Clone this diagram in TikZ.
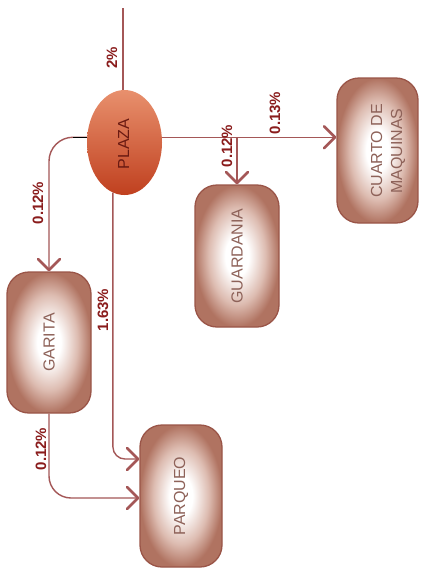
\documentclass[tikz,border=0pt]{standalone}
\usepackage{fontspec}
\setmainfont{Liberation Sans}
\usetikzlibrary{arrows.meta,shapes.geometric}
\definecolor{linec}{HTML}{A45757}
\definecolor{labelc}{HTML}{8A1C1C}
\definecolor{boxedge}{HTML}{9A5548}
\definecolor{boxouter}{HTML}{B07361}
\definecolor{boxmid}{HTML}{DDBCB1}
\definecolor{boxtextc}{HTML}{8E6259}
\definecolor{plazatop}{HTML}{E8906D}
\definecolor{plazabot}{HTML}{C0401F}
\definecolor{plazatext}{HTML}{6A1A12}
\pgfdeclareradialshading{boxshade}{\pgfpoint{0bp}{0bp}}{color(0bp)=(white); color(7bp)=(white); color(17bp)=(boxmid); color(25bp)=(boxouter); color(50bp)=(boxouter)}
\begin{document}
\begin{tikzpicture}[x=1pt,y=-1pt,
  roombox/.style={draw=boxedge, line width=1.3pt, rounded corners=22pt, shading=boxshade, inner sep=0pt},
  roomtext/.style={rotate=90, text=boxtextc, font=\fontsize{16}{20}\selectfont, align=center, inner sep=0pt},
  plazanode/.style={ellipse, minimum width=75pt, minimum height=105pt, inner sep=0pt, top color=plazatop, bottom color=plazabot, draw=none},
  pct/.style={rotate=90, text=labelc, font=\bfseries\fontsize{15}{18}\selectfont, inner sep=0pt},
  wire/.style={draw=linec, line width=1.4pt},
  flow/.style={wire, -{Straight Barb[length=11pt,width=22pt,line width=2.6pt,round]}}
]
\useasboundingbox[fill=white] (0,0) rectangle (425,571);

% nodes
\node[plazanode] (plaza) at (124.5,142.5) {};
\node[rotate=90, text=plazatext, font=\fontsize{16}{20}\selectfont, inner sep=0pt] (plazat) at (123.5,144) {PLAZA};

\node[roombox, minimum width=84pt, minimum height=141pt] (garita) at (49,342.5) {};
\node[roomtext] (garitat) at (garita) {GARITA};

\node[roombox, minimum width=82pt, minimum height=142pt] (parqueo) at (181,496) {};
\node[roomtext] (parqueot) at (parqueo) {PARQUEO};

\node[roombox, minimum width=84pt, minimum height=142pt] (guardania) at (237,256) {};
\node[roomtext] (guardaniat) at (guardania) {GUARDANIA};

\node[roombox, minimum width=81pt, minimum height=145pt] (cuarto) at (377.5,150.5) {};
\node[roomtext] (cuartot) at (388,151) {CUARTO DE\\MAQUINAS};

% connectors
\coordinate (feed) at (123,8);
\draw[wire] (feed) -- (feed |- plaza.north);

\draw[flow, rounded corners=24pt] (plaza.172) -| (garita.north);
\draw[black, line width=1.4pt] (plaza.172) -- ++(-14,0);

\draw[flow, rounded corners=12pt] (plaza.257) |- ([yshift=37pt]parqueo.west);
\draw[flow, rounded corners=22pt] (garita.south) |- ([yshift=-2pt]parqueo.west);

\coordinate (split) at (guardania.north |- plaza.8);
\draw[flow] (plaza.8) -- (plaza.8 -| cuarto.west);
\draw[flow] (split) -- (guardania.north);

% labels
\node[pct] (l2) at (112,58) {2\%};
\node[pct] (l012a) at (38,203) {0.12\%};
\node[pct] (l163) at (103,310) {1.63\%};
\node[pct] (l012b) at (41,449) {0.12\%};
\node[pct] (l013) at (275,113) {0.13\%};
\node[pct] (l012c) at (227,146) {0.12\%};
\end{tikzpicture}
\end{document}
